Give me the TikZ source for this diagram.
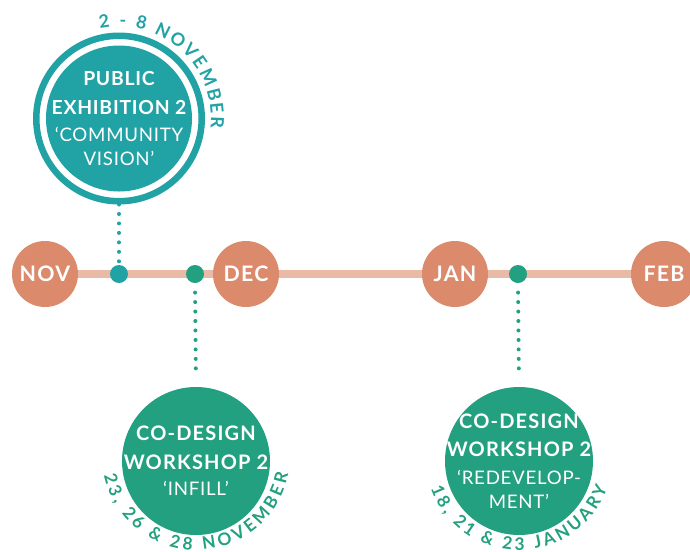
\documentclass[tikz,border=0pt]{standalone}
\usepackage{fontspec}
\setmainfont{Lato}
\usetikzlibrary{decorations.text,backgrounds}

\definecolor{monthcol}{RGB}{219,138,108}
\definecolor{linecol}{RGB}{233,187,167}
\definecolor{exhcol}{RGB}{33,162,165}
\definecolor{wscol}{RGB}{35,160,128}

\newcommand{\evtitle}[1]{{\bfseries\addfontfeature{LetterSpace=4}#1}}
\newcommand{\wstitle}[1]{{\bfseries\fontsize{15}{21.5}\selectfont\addfontfeature{LetterSpace=6}#1}}
\newcommand{\evsub}[1]{{\fontsize{14}{21.5}\selectfont\addfontfeature{LetterSpace=4}#1}}

\begin{document}
\begin{tikzpicture}[x=0.75pt,y=0.75pt,yscale=-1,xscale=1,
  month/.style={circle, fill=monthcol, text=white, minimum size=49.5pt, inner sep=0pt, font=\bfseries\fontsize{16}{18}\selectfont\addfontfeature{LetterSpace=6}},
  event/.style={circle, fill=#1, inner sep=0pt},
  evtext/.style={text=white, inner sep=0pt, align=center, font=\fontsize{14.5}{21.5}\selectfont},
  ring/.style={circle, draw=exhcol, line width=4.9pt, minimum size=124.1pt, inner sep=0pt},
  tick/.style={circle, fill=#1, minimum size=13.5pt, inner sep=0pt},
  timeline/.style={draw=linecol, line width=6.5pt},
  dotline/.style={draw=#1, line width=3pt, line cap=round, dash pattern=on 0pt off 7.1pt},
  arctext/.style={decorate, decoration={text along path, text align=fit to path, text color=#1}}
]
\useasboundingbox (0,0) rectangle (690,551);

%Month Circles
\node[month] (nov) at (45,274) {NOV};
\node[month] (dec) at (246,274) {DEC};
\node[month] (jan) at (455,274) {JAN};
\node[month] (feb) at (664,274) {FEB};

%Ticks
\node[tick=exhcol] (exhtick) at (119,274) {};
\node[tick=wscol] (inftick) at (195,274) {};
\node[tick=wscol] (redtick) at (518,274) {};

%Public Exhibition
\node[ring] (exhring) at (119,118.5) {};
\node[event=exhcol, minimum size=109.5pt] (exh) at (119,118.5) {};
\node[evtext] (exhtxt) at (exh) {\evtitle{PUBLIC}\\\evtitle{EXHIBITION 2}\\[-1pt]\evsub{‘COMMUNITY}\\[-3.5pt]\evsub{VISION’}};

%Workshops
\node[event=wscol, minimum size=111pt] (infill) at (196,461) {};
\node[evtext] (inftxt) at (infill) {\wstitle{CO-DESIGN}\\\wstitle{WORKSHOP 2}\\[-2pt]\evsub{‘INFILL’}};
\node[event=wscol, minimum size=111pt] (redev) at (519,461) {};
\node[evtext] (redtxt) at (redev) {\wstitle{CO-DESIGN}\\\wstitle{WORKSHOP 2}\\[-1pt]\evsub{‘REDEVELOP-}\\[-3.5pt]\evsub{MENT’}};

%Dotted Lines
\draw[dotline=exhcol] (exhring.south) -- (exhtick.north);
\draw[dotline=wscol, shorten <=7pt, shorten >=12pt] (inftick.south) -- (infill.north);
\draw[dotline=wscol, shorten <=7pt, shorten >=12pt] (redtick.south) -- (redev.north);

%Dates
\path[arctext=exhcol, decoration={text={|\bfseries\fontsize{13.5}{13.5}\selectfont|2 - 8 NOVEMBER}}] ([shift={(-102:92)}]exh.center) arc[start angle=-102, end angle=6, radius=92];
\path[arctext=wscol, decoration={text={|\bfseries\fontsize{13}{13}\selectfont|23, 26 {\&} 28 NOVEMBER}}] ([shift={(-192:94)}]196,456) arc[start angle=-192, end angle=-349, radius=94];
\path[arctext=wscol, decoration={text={|\bfseries\fontsize{13}{13}\selectfont|18, 21 {\&} 23 JANUARY}}] ([shift={(-200:94)}]519,456) arc[start angle=-200, end angle=-340, radius=94];

%Timeline
\begin{scope}[on background layer]
\draw[timeline] (nov) -- (feb);
\end{scope}

\end{tikzpicture}
\end{document}
